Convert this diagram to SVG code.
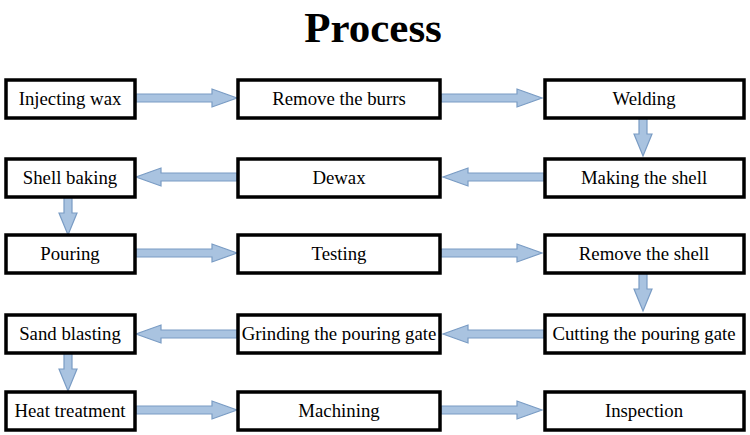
<svg xmlns="http://www.w3.org/2000/svg" width="750" height="435" viewBox="0 0 750 435">
<style>
.b{fill:#fff;stroke:#000;stroke-width:3.5}
.t{font-family:"Liberation Serif","Times New Roman",serif;font-size:18.8px;text-anchor:middle;fill:#000}
.a{fill:#a9c3e0;stroke:#7a9cc4;stroke-width:1.2}
</style>
<defs>
<path id="ar" d="M0,-4 H76 V-9 L101,0 L76,9 V4 H0 Z"/>
<path id="ad" d="M-4,0 V16 H-9 L0,38 L9,16 H4 V0 Z"/>
</defs>
<rect width="750" height="435" fill="#fff"/>
<text x="373" y="42" font-family="Liberation Serif,serif" font-size="43" font-weight="bold" text-anchor="middle">Process</text>
<g id="connectors" class="a">
<use href="#ar" x="136" y="98"/>
<use href="#ar" x="441" y="98"/>
<use href="#ad" x="643" y="118"/>
<use href="#ar" transform="translate(544,177) scale(-1,1)"/>
<use href="#ar" transform="translate(237,177) scale(-1,1)"/>
<use href="#ad" x="68" y="197"/>
<use href="#ar" x="136" y="253"/>
<use href="#ar" x="441" y="253"/>
<use href="#ad" x="643" y="273"/>
<use href="#ar" transform="translate(544,334) scale(-1,1)"/>
<use href="#ar" transform="translate(237,334) scale(-1,1)"/>
<use href="#ad" x="68" y="353"/>
<use href="#ar" x="136" y="410"/>
<use href="#ar" x="441" y="410"/>
</g>
<g id="n1"><rect class="b" x="6" y="80" width="129" height="38"/><text class="t" x="70" y="105">Injecting wax</text></g>
<g id="n2"><rect class="b" x="238" y="80" width="202" height="38"/><text class="t" x="339" y="105">Remove the burrs</text></g>
<g id="n3"><rect class="b" x="545" y="80" width="199" height="38"/><text class="t" x="644" y="105">Welding</text></g>
<g id="n4"><rect class="b" x="545" y="159" width="199" height="38"/><text class="t" x="644" y="184">Making the shell</text></g>
<g id="n5"><rect class="b" x="238" y="159" width="202" height="38"/><text class="t" x="339" y="184">Dewax</text></g>
<g id="n6"><rect class="b" x="6" y="159" width="129" height="38"/><text class="t" x="70" y="184">Shell baking</text></g>
<g id="n7"><rect class="b" x="6" y="235" width="129" height="38"/><text class="t" x="70" y="260">Pouring</text></g>
<g id="n8"><rect class="b" x="238" y="235" width="202" height="38"/><text class="t" x="339" y="260">Testing</text></g>
<g id="n9"><rect class="b" x="545" y="235" width="199" height="38"/><text class="t" x="644" y="260">Remove the shell</text></g>
<g id="n10"><rect class="b" x="545" y="315" width="199" height="38"/><text class="t" x="644" y="340">Cutting the pouring gate</text></g>
<g id="n11"><rect class="b" x="238" y="315" width="202" height="38"/><text class="t" x="339" y="340">Grinding the pouring gate</text></g>
<g id="n12"><rect class="b" x="6" y="315" width="129" height="38"/><text class="t" x="70" y="340">Sand blasting</text></g>
<g id="n13"><rect class="b" x="6" y="392" width="129" height="38"/><text class="t" x="70" y="417">Heat treatment</text></g>
<g id="n14"><rect class="b" x="238" y="392" width="202" height="38"/><text class="t" x="339" y="417">Machining</text></g>
<g id="n15"><rect class="b" x="545" y="392" width="199" height="38"/><text class="t" x="644" y="417">Inspection</text></g>
</svg>
